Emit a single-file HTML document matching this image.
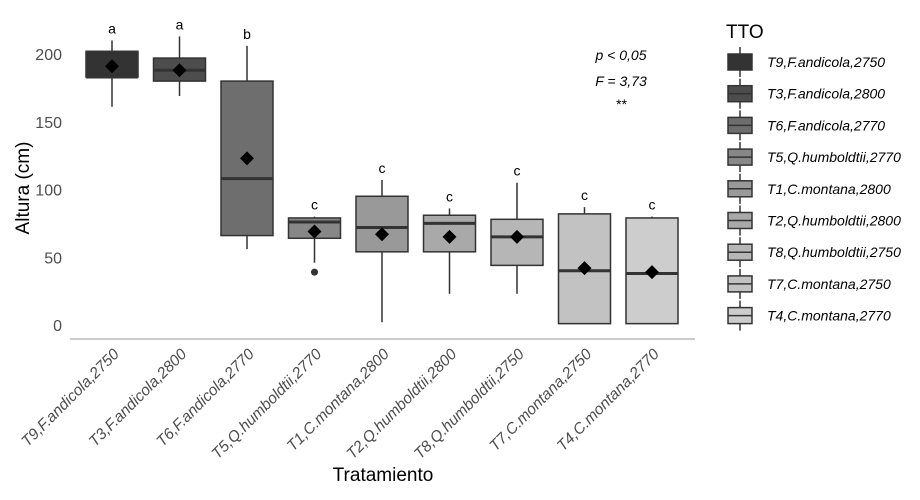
<!DOCTYPE html>
<html><head><meta charset="utf-8"><style>
body{margin:0;background:#fff;}
svg text{font-family:"Liberation Sans",Arial,sans-serif;}
</style></head><body>
<svg id="chart" width="920" height="495" viewBox="0 0 920 495">
<g id="plot"></g>
<g id="legend"></g>
</svg>
<script>
const categories = ["T9,F.andicola,2750","T3,F.andicola,2800","T6,F.andicola,2770","T5,Q.humboldtii,2770","T1,C.montana,2800","T2,Q.humboldtii,2800","T8,Q.humboldtii,2750","T7,C.montana,2750","T4,C.montana,2770"];
const whiskerLow = [161,169,56,46,2,23,23,1,1];
const q1Values = [183,180,66,64,54,54,44,1,1];
const medianValues = [183,188,108,76,72,75,65,40,38];
const q3Values = [202,197,180,79,95,81,78,82,79];
const whiskerHigh = [210,213,206,80,107,86,105,87,80];
const meanValues = [191,188,123,69,67,65,65,42,39];
const outlierValues = [[],[],[],[39],[],[],[],[],[]];
const groupLetters = ["a","a","b","c","c","c","c","c","c"];
const fillColors = ["#333333","#4d4d4d","#6e6e6e","#878787","#999999","#a9a9a9","#b6b6b6","#c2c2c2","#cdcdcd"];
const yTicks = [0,50,100,150,200];

const NS="http://www.w3.org/2000/svg";
function mk(tag,attrs,parent,txt){const e=document.createElementNS(NS,tag);for(const k in attrs)e.setAttribute(k,attrs[k]);if(txt!==undefined)e.textContent=txt;parent.appendChild(e);return e;}
const y = v => 325 - v*1.355;
const x = i => 112 + i*67.5;
const plot=document.getElementById('plot');
const leg=document.getElementById('legend');

yTicks.forEach(t=>{
  const e=mk('text',{x:62,y:y(t)+6,'text-anchor':'end','font-size':16,fill:'#4d4d4d'},plot,String(t));
  
  
});
const ax=mk('line',{x1:70,x2:695,y1:339,y2:339,stroke:'#999','stroke-width':1},plot);



const bw=52;
categories.forEach((c,i)=>{
  const g=mk('g',{},plot);
  
  
  const cx=x(i);
  mk('line',{x1:cx,x2:cx,y1:y(whiskerHigh[i]),y2:y(whiskerLow[i]),stroke:'#333','stroke-width':1.5},g);
  mk('rect',{x:cx-bw/2,y:y(q3Values[i]),width:bw,height:y(q1Values[i])-y(q3Values[i]),fill:fillColors[i],stroke:'#333','stroke-width':1.5},g);
  mk('line',{x1:cx-bw/2,x2:cx+bw/2,y1:y(medianValues[i]),y2:y(medianValues[i]),stroke:'#333','stroke-width':3},g);
  outlierValues[i].forEach(o=>mk('circle',{cx:cx,cy:y(o),r:3.5,fill:'#333'},g));
  const my=y(meanValues[i]);
  mk('polygon',{points:`${cx},${my-7} ${cx+7},${my} ${cx},${my+7} ${cx-7},${my}`,fill:'#000'},g);
  const lt=mk('text',{x:cx,y:y(whiskerHigh[i])-7,'text-anchor':'middle','font-size':14,fill:'#000'},plot,groupLetters[i]);
  
  
  const xl=mk('text',{x:0,y:0,'text-anchor':'end','font-size':15.5,'font-style':'italic',fill:'#4d4d4d',transform:`translate(${cx+8},${355}) rotate(-45)`},plot,c);
  
  
  const ly=62+i*31.7;
  const le=mk('g',{},leg);
  
  
  mk('line',{x1:740,x2:740,y1:ly-15,y2:ly+15,stroke:'#333','stroke-width':1.5},le);
  mk('rect',{x:728,y:ly-8,width:24,height:16,fill:fillColors[i],stroke:'#333','stroke-width':1.5},le);
  if(i>0) mk('line',{x1:728,x2:752,y1:ly,y2:ly,stroke:'#333','stroke-width':1.5},le);
  mk('text',{x:767,y:ly+5,'font-size':14,'font-style':'italic',fill:'#000'},le,c);
});
const lt=mk('text',{x:726,y:38,'font-size':19,fill:'#000'},leg,'TTO');



const ann=[["p < 0,05",60],["F = 3,73",86],["**",109]];
ann.forEach(a=>{
  const e=mk('text',{x:621,y:a[1],'text-anchor':'middle','font-size':14,'font-style':'italic',fill:'#000'},plot,a[0]);
  
  
});
const xt=mk('text',{x:383,y:481,'text-anchor':'middle','font-size':19,fill:'#000'},plot,'Tratamiento');


const yt=mk('text',{x:0,y:0,'text-anchor':'middle','font-size':19,fill:'#000',transform:'translate(29,188) rotate(-90)'},plot,'Altura (cm)');


</script>
</body></html>
